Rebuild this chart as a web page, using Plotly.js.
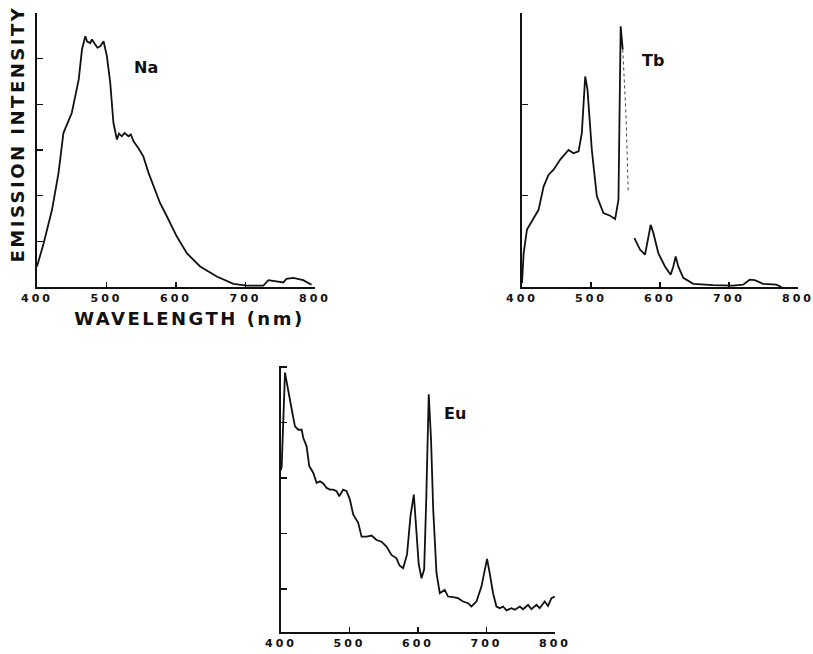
<!DOCTYPE html>
<html><head><meta charset="utf-8">
<script src="https://cdn.plot.ly/plotly-3.0.1.min.js"></script>
<style>html,body{margin:0;padding:0;background:#fff}#c{width:813px;height:654px}
.xtick text,.x2tick text,.x3tick text{letter-spacing:3px}
.annotation-text.spaced{letter-spacing:2.5px}
</style>
</head><body><div id="c"></div>
<script>
// Na emission spectrum
const naX = [400,409.6,421.6,431,438,450,460,464.7,469.5,472,476.6,479,483.8,487,491,495.8,500.6,505.4,510,515,518,522,526,531.7,535,538.9,546,553,560.5,570,577,586.8,601,615.6,634.7,658.7,682.6,701.8,725.7,733,745,754.5,759,768.9,783,795];
const naY = [0.45,0.96,1.69,2.5,3.37,3.81,4.54,5.2,5.49,5.38,5.34,5.42,5.31,5.24,5.27,5.38,5.05,4.47,3.59,3.23,3.36,3.30,3.37,3.30,3.34,3.19,3.04,2.86,2.5,2.13,1.84,1.55,1.11,0.74,0.45,0.23,0.07,0.03,0.03,0.15,0.12,0.10,0.18,0.2,0.15,0.05];
// Tb emission spectrum (first segment, dotted fall, second segment)
const tbX1 = [400,402.4,407.2,414.5,424,431.3,438.5,445.8,455.4,467.5,474.7,482,486.7,491.6,494.9,501.2,508.4,518,527.7,535,539.8,543,546];
const tbY1 = [0.09,0.74,1.26,1.44,1.69,2.2,2.46,2.57,2.79,3.0,2.93,2.97,3.37,4.61,4.32,3.0,1.99,1.62,1.56,1.49,1.91,5.71,5.2];
const tbX2 = [546,550.8,554];
const tbY2 = [5.2,3.74,2.06];
const tbX3 = [562.9,571,578.3,583,586.5,590.4,597.6,607.2,615.4,619.3,622.7,626.5,633.7,648.2,677,706,720.5,730,737.3,749.4,768.7,776];
const tbY3 = [1.07,0.82,0.71,1.04,1.36,1.18,0.74,0.45,0.27,0.45,0.67,0.45,0.2,0.07,0.04,0.03,0.05,0.16,0.15,0.07,0.05,0];
// Eu emission spectrum
const euX = [400,401,405.8,410.7,415.6,420.4,425.3,430.1,432.6,437.4,441.3,447.2,452,456.9,461.7,466.6,471.4,476.3,481.2,485,490.8,495.8,500.6,505.4,512.7,517.6,524.9,532.2,539.5,546.8,554,561.3,568.6,573,578.3,584,589,593.9,598,601,605.1,609,612,615.7,619,622.2,627,631.8,639,643.9,651.2,658.5,665.8,673.1,678,685.3,692.6,697.4,700.8,704.7,709.6,714.5,719.4,724.2,729.2,736.4,741.3,748.6,753.4,760.7,765.6,772.9,777.7,785,789.8,794.8,799.6];
const euY = [2.14,2.21,3.90,3.60,3.24,2.93,2.87,2.87,2.72,2.57,2.21,2.09,1.91,1.94,1.90,1.82,1.79,1.79,1.76,1.67,1.79,1.76,1.61,1.34,1.19,0.94,0.94,0.96,0.88,0.85,0.76,0.61,0.55,0.42,0.37,0.62,1.31,1.70,1.05,0.45,0.19,0.35,1.60,3.51,2.70,1.43,0.28,-0.08,-0.02,-0.14,-0.15,-0.17,-0.23,-0.26,-0.32,-0.23,0.04,0.37,0.54,0.28,-0.08,-0.32,-0.35,-0.32,-0.39,-0.35,-0.38,-0.32,-0.37,-0.29,-0.37,-0.29,-0.35,-0.23,-0.31,-0.17,-0.14];
const xTicks = [400,500,600,700,800];
const xTickText = ['400','500','600','700','800'];

const line = {color:'#111', width:1.8};
const traces = [
  {x:naX, y:naY, xaxis:'x', yaxis:'y', mode:'lines', line:line, showlegend:false},
  {x:tbX1, y:tbY1, xaxis:'x2', yaxis:'y2', mode:'lines', line:line, showlegend:false},
  {x:tbX2, y:tbY2, xaxis:'x2', yaxis:'y2', mode:'lines', line:{color:'#444', width:1, dash:'dot'}, showlegend:false},
  {x:tbX3, y:tbY3, xaxis:'x2', yaxis:'y2', mode:'lines', line:line, showlegend:false},
  {x:euX, y:euY, xaxis:'x3', yaxis:'y3', mode:'lines', line:line, showlegend:false}
];
const tickFont = {family:'DejaVu Sans', size:11, color:'#111', weight:'bold'};
function xa(dom, anchor){
  return {domain:dom, anchor:anchor, range:[400,800], tickvals:xTicks, ticktext:xTickText,
    showline:true, linewidth:2, linecolor:'#111', ticks:'inside', ticklen:5, tickwidth:1.5, tickcolor:'#111',
    showgrid:false, zeroline:false, tickfont:tickFont, ticklabeloverflow:'allow', fixedrange:true};
}
function ya(dom, anchor, range, dtick, t0){
  return {domain:dom, anchor:anchor, range:range, tick0:t0, dtick:dtick, showticklabels:false,
    showline:true, linewidth:2, linecolor:'#111', ticks:'inside', ticklen:6, tickwidth:1.5, tickcolor:'#111',
    showgrid:false, zeroline:false, fixedrange:true};
}
const W=813, H=654;
const dx = (a,b)=>[a/W, b/W];
const dy = (top,bot)=>[1-bot/H, 1-top/H];
const ann = (text,x,y,size,angle)=>({text:text, xref:'paper', yref:'paper', x:x/W, y:1-y/H, xanchor:'center', yanchor:'middle',
  textangle:angle||0, showarrow:false, font:{family:'DejaVu Sans', size:size, weight:'bold', color:'#111'}});
const layout = {
  width:W, height:H, margin:{l:0,r:0,t:0,b:0}, paper_bgcolor:'#fff', plot_bgcolor:'rgba(0,0,0,0)',
  xaxis: xa(dx(37,315),'y'),
  yaxis: ya(dy(13,287),'x',[0,6],1,0),
  xaxis2: xa(dx(522,798),'y2'),
  yaxis2: ya(dy(13,287),'x2',[0,6],2,0),
  xaxis3: xa(dx(281,555),'y3'),
  yaxis3: ya(dy(366,632),'x3',[-0.78,4.02],1,0),
  annotations:[
    ann('Na',146,67,16),
    ann('Tb',653,60,16),
    ann('Eu',455,413,16),
    ann('WAVELENGTH (nm)',189,318,18),
    ann('EMISSION INTENSITY',17,134,18,-90)
  ]
};
Plotly.newPlot('c', traces, layout, {staticPlot:true, displayModeBar:false}).then(function(gd){
  var t = gd.querySelectorAll('.annotation-text');
  for (var i=3;i<t.length;i++) t[i].classList.add('spaced');
});
</script></body></html>
